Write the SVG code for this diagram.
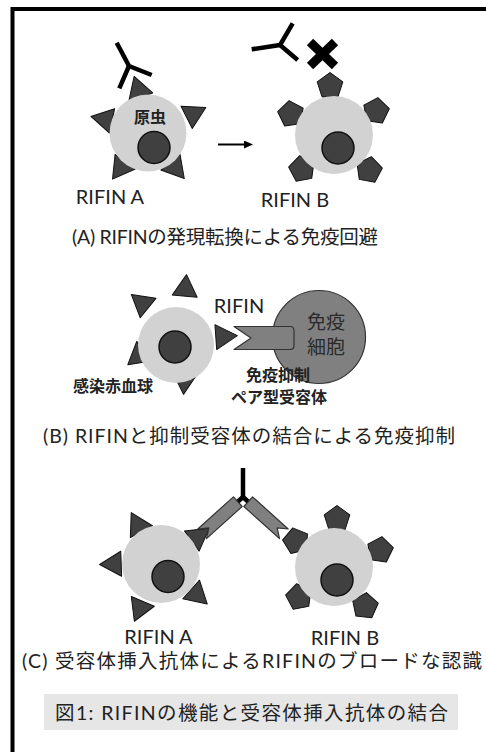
<svg xmlns="http://www.w3.org/2000/svg" xmlns:xlink="http://www.w3.org/1999/xlink" width="486" height="752" viewBox="0 0 486 752">
  <style>
    .frame { fill: none; stroke: #000; stroke-width: 4; }
    .rbc { fill: #d2d2d2; }
    .nuc { fill: #404040; stroke: #111; stroke-width: 1.5; }
    .rifin { fill: #404040; stroke: #111; stroke-width: 1; stroke-linejoin: round; }
    .ab { fill: none; stroke: #000; stroke-width: 4.5; stroke-linecap: butt; stroke-linejoin: miter; }
    .rcp { fill: #808080; stroke: #333; stroke-width: 1.2; stroke-linejoin: round; }
    .imm { fill: #808080; stroke: #333; stroke-width: 1.2; }
    .lbl { font-family: Lato, "Noto Sans CJK JP", sans-serif; font-size: 20px; fill: #222; }
    .jp { font-family: "Noto Sans CJK JP", sans-serif; font-size: 16px; font-weight: bold; fill: #222; }
    .cap { font-family: Lato, "Noto Sans CJK JP", sans-serif; font-size: 19.5px; fill: #222; }
  </style>
  <defs>
    <!-- surface protein shapes: triangle (variant A) and pentagon (variant B) -->
    <polygon id="tri" class="rifin" points="0,-14.4 12.5,7.2 -12.5,7.2"/>
    <polygon id="pent" class="rifin" points="0,-13.5 12.84,-4.17 7.94,10.92 -7.94,10.92 -12.84,-4.17"/>
    <marker id="arrowhead" markerWidth="9" markerHeight="8" refX="1" refY="4" orient="auto" markerUnits="userSpaceOnUse">
      <path d="M0,0 L9,4 L0,8 z" fill="#000"/>
    </marker>
  </defs>

  <rect class="frame" x="12.5" y="9" width="490" height="760"/>

  <!-- (A) antigenic switching -->
  <g id="cellA1">
    <use xlink:href="#tri" transform="translate(138.6,90) rotate(-18)"/>
    <use xlink:href="#tri" transform="translate(105,119.4) rotate(-78)"/>
    <use xlink:href="#tri" transform="translate(193,114) rotate(63)"/>
    <use xlink:href="#tri" transform="translate(121,167.5) rotate(-144)"/>
    <use xlink:href="#tri" transform="translate(175,167.5) rotate(140)"/>
    <circle class="rbc" cx="148" cy="133" r="38.5"/>
    <circle class="nuc" cx="154" cy="147.5" r="16"/>
    <text class="jp" x="150" y="123" text-anchor="middle">原虫</text>
    <text class="lbl" x="110" y="204" text-anchor="middle">RIFIN A</text>
  </g>
  <g id="antibodyA1">
    <polyline class="ab" points="116.7,42.7 129,66 151.7,75"/>
    <line class="ab" x1="129" y1="66" x2="119.3" y2="88.3"/>
  </g>
  <g id="cellB1">
    <use xlink:href="#pent" transform="translate(330,86)"/>
    <use xlink:href="#pent" transform="translate(291,114) rotate(-8)"/>
    <use xlink:href="#pent" transform="translate(376,111) rotate(8)"/>
    <use xlink:href="#pent" transform="translate(302,169) rotate(-10)"/>
    <use xlink:href="#pent" transform="translate(369,170) rotate(10)"/>
    <circle class="rbc" cx="334" cy="135" r="39"/>
    <circle class="nuc" cx="338" cy="148" r="16"/>
    <text class="lbl" x="295" y="207" text-anchor="middle">RIFIN B</text>
  </g>
  <g id="antibodyB1">
    <polyline class="ab" points="292.7,23.3 280,45 297.7,60"/>
    <line class="ab" x1="280" y1="45" x2="251.7" y2="49.3"/>
    <g stroke="#000" stroke-width="9">
      <line x1="310" y1="42" x2="335" y2="66"/>
      <line x1="335" y1="42" x2="310" y2="66"/>
    </g>
  </g>
  <g id="connectors">
    <line x1="218" y1="144.5" x2="245" y2="144.5" stroke="#000" stroke-width="2" marker-end="url(#arrowhead)"/>
  </g>
  <text class="cap" x="72" y="244" textLength="306" lengthAdjust="spacing">(A) RIFINの発現転換による免疫回避</text>

  <!-- (B) binding to inhibitory receptor -->
  <g id="infectedRBC">
    <use xlink:href="#tri" transform="translate(185.3,289) rotate(5)"/>
    <use xlink:href="#tri" transform="translate(142.5,303.5) rotate(-51)"/>
    <use xlink:href="#tri" transform="translate(223,336.6) rotate(86)"/>
    <use xlink:href="#tri" transform="translate(139,355.6) rotate(-129)"/>
    <use xlink:href="#tri" transform="translate(184.5,380) rotate(184)"/>
    <circle class="rbc" cx="176" cy="345" r="38"/>
    <circle class="nuc" cx="175" cy="347" r="16"/>
    <text class="jp" x="113" y="392" text-anchor="middle" font-size="17">感染赤血球</text>
  </g>
  <g id="immuneCell">
    <circle class="imm" cx="319" cy="337" r="46.5"/>
    <text x="326" y="329" text-anchor="middle" font-family="'Noto Sans CJK JP', sans-serif" font-size="19" fill="#2a2a2a">免疫</text>
    <text x="326" y="354" text-anchor="middle" font-family="'Noto Sans CJK JP', sans-serif" font-size="19" fill="#2a2a2a">細胞</text>
  </g>
  <g id="receptor">
    <path class="rcp" d="M234,326.5 H290 Q294,326.5 294,330.5 V345.5 Q294,349.5 290,349.5 H234 L251,338 Z"/>
    <text class="lbl" x="239" y="313" text-anchor="middle">RIFIN</text>
    <text class="jp" x="278" y="381" text-anchor="middle">免疫抑制</text>
    <text class="jp" x="279" y="403" text-anchor="middle">ペア型受容体</text>
  </g>
  <text class="cap" x="43" y="443" textLength="412" lengthAdjust="spacing">(B) RIFINと抑制受容体の結合による免疫抑制</text>

  <!-- (C) broad recognition by receptor-inserted antibody -->
  <g id="cellA2">
    <use xlink:href="#tri" transform="translate(138,525.3) rotate(-28)"/>
    <use xlink:href="#tri" transform="translate(197.6,536.8) rotate(54)"/>
    <use xlink:href="#tri" transform="translate(114,564) rotate(-92)"/>
    <use xlink:href="#tri" transform="translate(140,608) rotate(-157)"/>
    <use xlink:href="#tri" transform="translate(196.5,594.3) rotate(132)"/>
    <circle class="rbc" cx="161" cy="564" r="39"/>
    <circle class="nuc" cx="168" cy="576.5" r="16"/>
    <text class="lbl" x="158.5" y="644" text-anchor="middle">RIFIN A</text>
  </g>
  <g id="cellB2">
    <use xlink:href="#pent" transform="translate(337,519)"/>
    <use xlink:href="#pent" transform="translate(380,550) rotate(8)"/>
    <use xlink:href="#pent" transform="translate(296,541) rotate(-14)"/>
    <use xlink:href="#pent" transform="translate(299,597) rotate(-10)"/>
    <use xlink:href="#pent" transform="translate(365,606) rotate(6)"/>
    <circle class="rbc" cx="334" cy="567" r="39"/>
    <circle class="nuc" cx="337" cy="580" r="16"/>
    <text class="lbl" x="345" y="645" text-anchor="middle" font-size="19">RIFIN B</text>
  </g>
  <g id="insertedAntibody">
    <line class="ab" x1="243" y1="468" x2="243" y2="498"/>
    <g transform="translate(243,497) rotate(42)">
      <line class="ab" x1="0" y1="0" x2="9" y2="0"/>
      <polygon class="rcp" points="7,-6.5 55,-6.5 46,0 55,6.5 7,6.5"/>
    </g>
    <g transform="translate(243,497) rotate(138)">
      <line class="ab" x1="0" y1="0" x2="9" y2="0"/>
      <polygon class="rcp" points="7,-6.5 55,-6.5 46,0 55,6.5 7,6.5"/>
    </g>
  </g>
  <text class="cap" x="22" y="668" textLength="460" lengthAdjust="spacing">(C) 受容体挿入抗体によるRIFINのブロードな認識</text>

  <!-- figure title -->
  <g id="figTitle">
    <rect x="44" y="694" width="414" height="36" fill="#e6e6e6"/>
    <text class="cap" x="55" y="719.5" font-size="21.5" textLength="393" lengthAdjust="spacing">図1: RIFINの機能と受容体挿入抗体の結合</text>
  </g>
</svg>
